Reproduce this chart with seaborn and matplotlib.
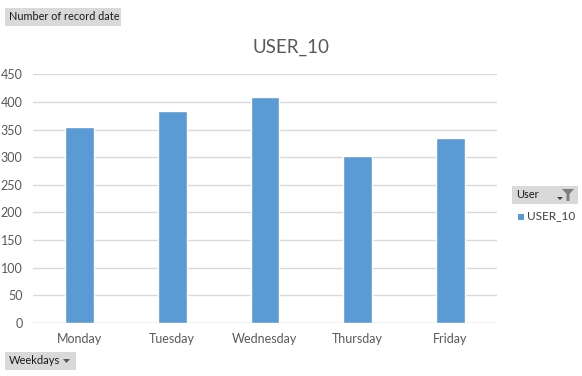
import matplotlib
matplotlib.use("Agg")
import matplotlib.pyplot as plt
import seaborn as sns
import pandas as pd
from matplotlib.patches import Rectangle, Polygon

days = ["Monday", "Tuesday", "Wednesday", "Thursday", "Friday"]
values = [355, 384, 409, 302, 335]
series_name = "USER_10"
yticks = [0, 50, 100, 150, 200, 250, 300, 350, 400, 450]

sns.set_theme(style="white")
plt.rcParams['font.family'] = ['Lato', 'DejaVu Sans']

W, H = 582, 376
fig = plt.figure(figsize=(W/100, H/100), dpi=100)
ax = fig.add_axes([33/W, (H-323)/H, (497-33)/W, (323-74.3)/H])

df = pd.DataFrame({"Weekday": days, "Count": values})
sns.barplot(data=df, x="Weekday", y="Count", color="#5B9BD5", width=0.31,
            saturation=1, ax=ax, zorder=3)
ax.set_ylim(0, 450)
ax.set_xlim(-0.5, 4.5)
ax.set_yticks(yticks)
ax.set_xlabel("")
ax.set_ylabel("")
ax.grid(axis="y", color="#d9d9d9", linewidth=1, zorder=0)
for s in ax.spines.values():
    s.set_visible(False)
ax.axhline(0, color="#d9d9d9", linewidth=1, zorder=1)
ax.tick_params(axis="both", length=0, labelsize=9, colors="#595959")
ax.tick_params(axis="y", pad=7.5)
ax.tick_params(axis="x", pad=7)

fig.text(291/W, 1-47/H, series_name, ha="center", va="center", fontsize=13.5, color="#595959")

# Field buttons
def button(x0, y0, x1, y1, text, fs=8):
    fig.patches.append(Rectangle((x0/W, 1-y1/H), (x1-x0)/W, (y1-y0)/H,
                                 transform=fig.transFigure, facecolor="#d9d9d9",
                                 edgecolor="none"))
    fig.text((x0+4)/W, 1-((y0+y1)/2)/H, text, ha="left", va="center",
             fontsize=fs, color="#1a1a1a")

button(5, 8, 121, 26, "Number of record date", fs=7.8)
button(5, 352, 76, 370, "Weekdays", fs=8)
fig.patches.append(Polygon([[(63)/W, 1-359/H], [(70)/W, 1-359/H], [(66.5)/W, 1-363/H]],
                           closed=True, transform=fig.transFigure, facecolor="#595959",
                           edgecolor="none"))
button(512, 186, 578, 204, "User", fs=8)
fig.patches.append(Polygon([[557/W, 1-197/H], [563/W, 1-197/H], [560/W, 1-200/H]],
                           closed=True, transform=fig.transFigure, facecolor="#404040",
                           edgecolor="none"))
fig.patches.append(Polygon([[562/W, 1-189/H], [574/W, 1-189/H], [569.5/W, 1-194/H],
                            [569.5/W, 1-201/H], [566.5/W, 1-201/H], [566.5/W, 1-194/H]],
                           closed=True, transform=fig.transFigure, facecolor="#7f7f7f",
                           edgecolor="none"))
# legend entry
fig.patches.append(Rectangle((518/W, 1-219.5/H), 6/W, 6/H, transform=fig.transFigure,
                             facecolor="#5B9BD5", edgecolor="none"))
fig.text(527/W, 1-216/H, series_name, ha="left", va="center", fontsize=8.5, color="#404040")

fig.savefig("out.png", dpi=100)
